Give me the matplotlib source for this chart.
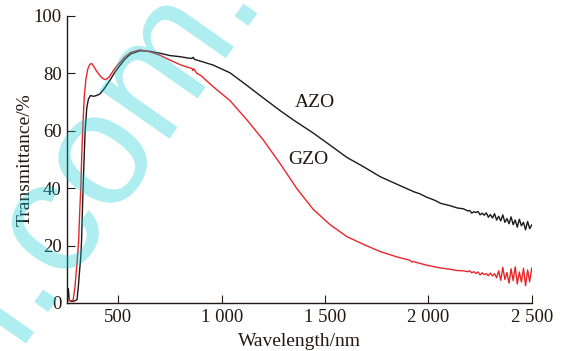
import matplotlib
matplotlib.use("Agg")
import matplotlib.pyplot as plt

plt.rcParams['font.family'] = ['Liberation Serif', 'DejaVu Serif']

# AZO (black) transmittance
azo_wl = [250, 254, 258, 262, 270, 280, 290, 300, 306, 312, 318, 322, 327, 332, 339, 347,
          355, 365, 380, 395, 410, 430, 460, 484, 510, 532, 560, 605, 650, 702, 750,
          800, 840, 855, 862, 868, 900, 958, 1040, 1122, 1200, 1283, 1346, 1443,
          1524, 1606, 1690, 1767, 1850, 1928, 1960, 1990, 2030, 2060, 2100, 2140, 2170, 2190]
azo_t = [0.8, 2.0, 5.0, 1.0, 0.6, 0.6, 0.8, 1.2, 5.5, 11, 16, 22, 35, 46, 60, 68,
         71, 72.3, 72.0, 72.3, 72.8, 74.5, 77.7, 80.5, 83.0, 85.0, 86.8, 87.9, 87.7, 87.0, 86.2,
         85.8, 85.3, 85.2, 85.6, 84.9, 84.2, 82.9, 80.2, 75.8, 71.5, 67.0, 63.8, 59.2,
         55.0, 50.7, 47.3, 44.0, 41.3, 38.8, 38.0, 36.9, 35.8, 34.7, 34.0, 33.1, 32.8, 32.1]

# GZO (red) transmittance
gzo_wl = [250, 256, 270, 281, 290, 301, 308, 313, 318, 323, 327, 335, 343, 352, 362, 372,
          382, 395, 411, 425, 437, 455, 470, 484, 510, 532, 560, 605, 653, 702, 750,
          800, 840, 855, 860, 864, 880, 900, 958, 1040, 1122, 1201, 1283, 1364, 1443,
          1524, 1606, 1690, 1767, 1850, 1910, 1920, 1928, 1990, 2030, 2060, 2100, 2140, 2170, 2190]
gzo_t = [1.0, 0.8, 0.8, 1.0, 5.6, 15, 22, 32, 40, 52, 60, 72, 78, 81.5, 83.2, 83.4,
         82.3, 80.7, 79.2, 78.2, 77.8, 78.7, 80.3, 81.8, 84.0, 85.8, 87.3, 88.2, 87.5, 86.3, 84.6,
         83.0, 82.0, 81.8, 81.0, 81.6, 80.0, 79.2, 75.4, 70.5, 63.8, 56.8, 48.5, 39.8, 32.6,
         27.3, 23.1, 20.3, 17.9, 16.0, 14.9, 14.3, 14.4, 13.2, 12.6, 12.2, 11.8, 11.3, 11.2, 10.9]

# noisy long-wavelength tail, shared wavelengths
tail_wl = [2200, 2210, 2220, 2230, 2240, 2250, 2260, 2270, 2280, 2290, 2300,
           2310, 2320, 2330, 2340, 2350, 2360, 2370, 2380, 2390, 2400,
           2410, 2420, 2430, 2440, 2450, 2460, 2470, 2480, 2490, 2500]
azo_tail = [32.2, 31.3, 31.8, 31.5, 31.9, 30.7, 31.3, 30.6, 31.4, 29.9, 30.8,
            29.6, 31.1, 28.9, 30.2, 28.6, 30.7, 28.1, 29.4, 27.6, 30.0,
            27.3, 28.9, 26.4, 29.2, 26.9, 28.1, 25.5, 28.4, 25.9, 27.2]
gzo_tail = [11.2, 10.5, 10.9, 10.3, 10.8, 9.8, 10.5, 9.9, 10.2, 9.5, 10.4,
            9.4, 10.2, 8.8, 11.2, 7.9, 12.4, 8.2, 10.6, 6.9, 11.9,
            7.8, 12.6, 6.6, 10.8, 7.3, 12.1, 6.0, 11.5, 7.4, 12.2]

xticks = [500, 1000, 1500, 2000, 2500]
xticklabels = ['500', '1 000', '1 500', '2 000', '2 500']
yticks = [0, 20, 40, 60, 80, 100]

fig = plt.figure(figsize=(5.63, 3.51), dpi=100)
ax = fig.add_axes([0.1185, 0.1368, 0.826, 0.8177])

ax.plot(azo_wl + tail_wl, azo_t + azo_tail, color='#1a1a1a', lw=1.0)
ax.plot(gzo_wl + tail_wl, gzo_t + gzo_tail, color='#e8262a', lw=1.0)

ax.set_xlim(250, 2500)
ax.set_ylim(0, 100)
ax.set_xticks(xticks)
ax.set_xticklabels(xticklabels)
ax.set_yticks(yticks)
ax.tick_params(direction='in', length=6, width=0.8, labelsize=13.5, colors='#231815')
ax.tick_params(axis='x', pad=4.5)
ax.tick_params(axis='y', pad=3.5)
for s in ['top', 'right']:
    ax.spines[s].set_visible(False)
for s in ['left', 'bottom']:
    ax.spines[s].set_linewidth(1.0)
    ax.spines[s].set_color('#231815')

ax.set_xlabel('Wavelength/nm', fontsize=14, color='#231815')
ax.set_ylabel('Transmittance/%', fontsize=14, color='#231815')
ax.xaxis.set_label_coords(0.5, -0.1045)
ax.yaxis.set_label_coords(-0.072, 0.498)

ax.text(1452, 70, 'AZO', fontsize=14, ha='center', va='center', color='#231815')
ax.text(1418, 50, 'GZO', fontsize=14, ha='center', va='center', color='#231815')

# cyan watermark lying over the chart
fig.text(0.247, 0.522, 'i.com.', family='Liberation Sans', fontsize=116,
         color=(0.0, 0.78, 0.82), alpha=0.32, rotation=55, rotation_mode='anchor',
         ha='center', va='baseline', zorder=10)

fig.savefig('out.png', dpi=100)
